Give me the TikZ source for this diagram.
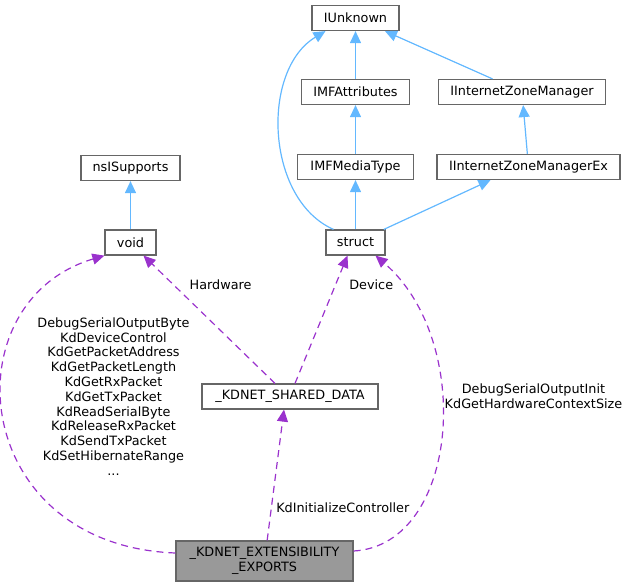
\documentclass[tikz,border=0pt]{standalone}
\usepackage{fontspec}
\setmainfont{DejaVu Sans}
\usetikzlibrary{positioning, arrows.meta}
\definecolor{edgeblue}{HTML}{63B8FF}
\definecolor{refpurple}{HTML}{9A32CD}
\definecolor{boxline}{HTML}{666666}
\definecolor{focusfill}{HTML}{999999}

\begin{document}
\begin{tikzpicture}[font=\fontsize{12.8pt}{14.8pt}\selectfont, on grid,
  >={Triangle[length=12pt,width=11pt]},
  cls/.style={draw=boxline, fill=white, line width=1.2pt, inner sep=0pt, minimum height=25pt},
  focus/.style={cls, fill=focusfill, align=center, minimum height=40pt},
  lbl/.style={align=center, inner sep=0pt},
  inh/.style={->, draw=edgeblue, line width=1.2pt},
  uses/.style={->, draw=refpurple, line width=1.2pt, dash pattern=on 7pt off 5pt}]
\useasboundingbox (0,0) rectangle (631pt,-587pt);
% interface column
\node[cls, minimum width=87pt] (iunk) at (355.5pt,-18pt) {IUnknown};
\node[cls, minimum width=108pt, below=74pt of iunk] (imfattr) {IMFAttributes};
\node[cls, minimum width=116pt, below=75pt of imfattr] (imfmedia) {IMFMediaType};
\node[cls, minimum width=59pt, below=75.5pt of imfmedia] (struct) {struct};
\node[cls, minimum width=167pt, right=166.5pt of imfattr] (izm) {IInternetZoneManager};
\node[cls, minimum width=183pt, right=173pt of imfmedia] (izmex) {IInternetZoneManagerEx};
% left side
\node[cls, minimum width=51pt, left=225pt of struct] (void) {void};
\node[cls, minimum width=99pt, above=74.5pt of void] (nsis) {nsISupports};
% shared data and the focus class
\node[cls, minimum width=176pt, below left=154pt and 65.5pt of struct] (shared) {\_KDNET\_SHARED\_DATA};
\node[focus, minimum width=177pt, below left=164.5pt and 25.5pt of shared] (exports) {\_KDNET\_EXTENSIBILITY\\\_EXPORTS};
% member labels
\node[lbl, left=176.5pt of shared] (fnlbl) {DebugSerialOutputByte\\KdDeviceControl\\KdGetPacketAddress\\KdGetPacketLength\\KdGetRxPacket\\KdGetTxPacket\\KdReadSerialByte\\KdReleaseRxPacket\\KdSendTxPacket\\KdSetHibernateRange\\...};
\node[lbl, right=243.5pt of shared] (initlbl) {DebugSerialOutputInit\\KdGetHardwareContextSize};
% inheritance
\draw[inh] (void) -- (nsis);
\draw[inh] (imfattr) -- (iunk);
\draw[inh] (izm) -- (iunk);
\draw[inh] (imfmedia) -- (imfattr);
\draw[inh] (izmex) -- (izm);
\draw[inh] (struct) -- (imfmedia);
\draw[inh] (struct) -- ([xshift=-38pt]izmex.south);
\draw[inh] ([xshift=-22pt]struct.north) .. controls +(-68pt,30pt) and +(-65pt,-39pt) .. ([xshift=-30pt]iunk.south);
% usage
\draw[uses] ([xshift=-15pt]shared.north) -- node[pos=0.77, right=12pt] {Hardware} ([xshift=13pt]void.south);
\draw[uses] ([xshift=5pt]shared.north) -- node[pos=0.77, right=10pt] {Device} ([xshift=-8pt]struct.south);
\draw[uses] (exports) -- node[pos=0.25, right=1pt] {KdInitializeController} ([xshift=-6pt]shared.south);
\draw[uses] ([yshift=8pt]exports.west) .. controls +(-207pt,8pt) and +(-155pt,-46pt) .. (void.south west);
\draw[uses] ([yshift=10pt]exports.east) .. controls +(106pt,6pt) and +(99pt,-85pt) .. ([xshift=20pt]struct.south);
\end{tikzpicture}
\end{document}
